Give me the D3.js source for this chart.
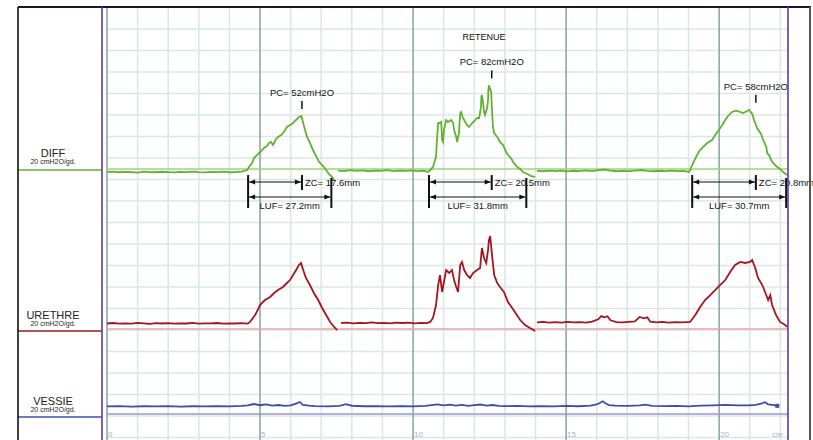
<!DOCTYPE html>
<html>
<head>
<meta charset="utf-8">
<script src="https://cdn.jsdelivr.net/npm/d3@7"></script>
<style>
  html, body { margin: 0; padding: 0; background: #fff; }
  svg { display: block; font-family: "Liberation Sans", Arial, Helvetica, sans-serif; }
</style>
</head>
<body>
<svg id="chart" width="813" height="440"></svg>
<script>
// Position along the paper, in mm; pressures in cmH2O.
// Each trace is a list of [mm, cmH2O] samples; null marks a break in the recording.

const diffTrace = [
  [0,-3],[2,-2.5],[4,-3.2],[6,-2.8],[8,-3],[10,-3.5],[12,-2.6],[14,-3],[16,-3.2],[18,-2.7],
  [20,-3],[22,-3.4],[24,-2.8],[26,-3],[28,-2.5],[30,-3.1],[32,-3.3],[34,-2.9],[36,-3],[38,-2.6],
  [40,-3.2],[42,-3],[44,-2.5],[45.8,-1],
  [46.4,2],[47.4,5.9],[48,10.8],[49,13.7],[49.7,15.7],[50.7,18.6],[51.3,20.6],[52.3,22.5],[52.9,25.5],
  [53.6,26.5],[54.2,23.5],[54.6,25.5],[55.2,29.4],[55.9,31.4],[56.9,33.3],[57.5,35.3],[58.2,38.2],
  [58.8,41.2],[59.8,43.1],[60.8,45.1],[61.4,47.1],[62.1,49],[62.7,51],[63.5,52],[64.1,45.1],
  [64.7,38.2],[65.4,31.4],[66.3,25.5],[67.3,18.6],[68.3,12.7],[69.3,6.9],[70.6,2.9],[71.6,-1],
  [72.5,-4.9],[73.5,-7.8],[74.2,-10.8],
  null,
  [75.5,-1.5],[77.5,-2],[79.5,-1.2],[81.5,-1.8],[83.5,-1.4],[85.5,-2.2],[87.5,-1.5],[89.5,-1.8],
  [91.5,-1.2],[93.5,-2],[95.5,-1.6],[97.5,-1.9],[99.5,-1.3],[101.5,-2.1],[103.5,-1.7],[104.9,-2.9],
  [105.6,-1],[106.5,2],[107.5,11.8],[107.8,28.4],[108.2,45.1],[108.8,45.1],[109.2,46.1],[109.5,28.4],
  [109.8,26.5],[110.1,38.2],[110.8,48],[111.4,46.1],[112.4,48],[113.1,45.1],[113.4,38.2],[114.1,31.4],
  [114.4,26.5],[115,35.3],[115.4,54.9],[115.7,55.9],[116.3,50],[116.7,48],[117.6,43.1],[118.3,41.2],
  [119.3,45.1],[120.3,48],[120.9,50],[121.6,50],[122.2,60.8],[122.3,70.6],[122.5,72.5],[122.9,64.7],
  [123.2,55.9],[123.5,52.9],[124.2,59.8],[124.5,67.6],[124.6,77.5],[124.8,82],[125.5,75.5],
  [125.6,69.6],[125.8,57.8],[126.1,41.2],[126.5,35.3],[127.5,31.4],[128.4,26.5],[129.4,23.5],
  [130.4,16.7],[131,13.7],[132,10.8],[132.7,6.9],[134,2],[135,0],[135.9,-2.9],[137.3,-4.9],
  [138.6,-6.9],[139.9,-7.8],
  null,
  [140.5,-1.8],[142.5,-2.2],[144.5,-1.5],[146.5,-2],[148.5,-1.6],[150.5,-2.3],[152.5,-1.7],
  [154.5,-2],[156.5,-1.4],[158.5,-2.1],[160.5,-1],[162.5,-0.5],[164.5,-1.6],[166.5,-2.2],
  [168.5,-1.8],[170.5,-2],[172.5,-1.5],[174.5,-1],[176.5,-1.9],[178.5,-2.2],[180.5,-1.7],
  [182.5,-2],[184.5,-1.6],[186.5,-2.1],[188.5,-1.8],[190.2,-2.9],
  [190.5,-1],[191.5,5.9],[192.5,11.8],[193.5,17.6],[194.8,21.6],[196.1,25.5],[197.7,28.4],
  [198.7,33.3],[199.7,37.3],[201,43.1],[202,48],[202.9,52],[204.2,55.9],[205.2,56.9],[205.9,57],
  [206.9,55.9],[207.8,54.9],[209.2,56.9],[209.8,58],[210.8,53.9],[211.4,48],[212.4,40.2],
  [213.7,34.3],[214.4,28.4],[215.4,21.6],[215.7,15.7],[216.3,13.7],[217,8.8],[217.6,5.9],
  [219,2],[219.9,0],[220.9,-2.9],[222.2,-5.9]
];

const urethreTrace = [
  [0,5.4],[2,5.9],[4,5.2],[6,5.6],[8,5.3],[10,6],[12,5.5],[14,5.1],[16,5.7],[18,5.4],
  [20,5.8],[22,5.2],[24,5.6],[26,5.4],[28,6],[30,5.3],[32,5.6],[34,5.5],[36,5.9],[38,5.2],
  [40,5.6],[42,5.4],[44,5.8],[46,5.3],
  [46.7,6.9],[48.4,13.7],[50,23.5],[51.6,28.4],[53.3,31.4],[54.6,35.3],[55.9,38.2],[57.5,41.2],
  [58.8,45.1],[59.8,48],[60.8,52.9],[61.8,57.8],[62.7,62.7],[63.4,64.7],[64.1,57.8],[65,50],
  [66.3,43.1],[67.6,35.3],[69,28.4],[70.3,20.6],[71.6,13.7],[72.9,6.9],[74.2,2],[75.2,-1],
  null,
  [76.5,5.9],[78.5,6.3],[80.5,5.6],[82.5,6.1],[84.5,5.8],[86.5,6.4],[88.5,5.7],[90.5,6],
  [92.5,5.5],[94.5,6.2],[96.5,5.9],[98.5,6.3],[100.5,5.6],[102.5,6],[104.5,5.8],
  [105.6,6.9],[106.5,10.8],[107.5,23.5],[108.2,43.1],[108.8,52.9],[109.5,36.3],[110.1,46.1],
  [110.8,57.8],[111.8,54.9],[112.7,57.8],[113.4,48],[114.1,41.2],[114.7,36.3],[115.4,62.7],
  [116,65.7],[116.7,57.8],[117.6,52.9],[118.6,50],[119.6,54.9],[120.9,57.8],[121.9,59.8],
  [122.5,79.4],[123.2,69.6],[123.9,64.7],[124.5,77.5],[124.8,87.3],[125.2,91.2],[125.8,72.5],
  [126.5,52.9],[127.5,45.1],[128.4,41.2],[129.7,36.3],[131,26.5],[132.4,20.6],[133.7,14.7],
  [135,8.8],[136.6,3.9],[138.2,1],[139.9,-2],
  null,
  [140.5,6.4],[142.5,6.9],[144.5,6.2],[146.5,6.7],[148.5,6.3],[150.5,7],[152.5,6.5],[154.5,6.8],
  [156.5,6.3],[158.5,7.2],[160.5,9.5],[161.5,12.7],[162.5,11.5],[163.5,12.5],[164.5,8.5],
  [166.5,6.8],[168.5,6.4],[170.5,6.9],[172.5,7.5],[174,11.8],[175.5,10.5],[176.5,11.5],
  [177.5,7.2],[179.5,6.5],[181.5,6.9],[183.5,6.3],[185.5,6.8],[187.5,6.4],[189.5,6.7],
  [190.5,6.9],[192.2,13.7],[193.8,21.6],[195.4,28.4],[197.1,33.3],[198.7,38.2],[200.3,43.1],
  [202,48],[203.6,55.9],[205.2,62.7],[206.9,65.7],[208.5,64.7],[210.1,65.7],[210.8,67.6],
  [211.8,59.8],[212.7,50],[214.1,43.1],[215,36.3],[216,28.4],[216.7,33.3],[217.3,23.5],
  [218.6,13.7],[219.9,6.9],[221.6,3.9],[222.2,2]
];

const vessieTrace = [
  [0,7.5],[4,7.8],[8,7.2],[12,7.6],[16,7.4],[20,7.8],[24,7.3],[28,7.6],[32,7.5],[36,7.7],
  [40,7.4],[44,8],[46,8.5],[48,9.8],[50,8.6],[52,9.5],[54,8.2],[56,8.8],[58,7.9],[60,8.4],
  [62,10.5],[63,11.8],[64,9],[66,8.2],[68,7.8],[72,7.5],[76,8],[78,9.6],[80,8.1],[84,7.6],
  [88,7.8],[92,7.4],[96,7.7],[100,7.5],[104,7.9],[106,8.6],[108,9.4],[110,8.5],[112,9.2],
  [114,8.3],[116,8.9],[118,8],[120,8.6],[122,9.3],[124,8.2],[126,8.8],[128,8],[130,7.7],
  [134,7.9],[138,7.5],[142,7.8],[146,7.4],[150,8],[154,7.6],[158,8.2],[160,9.5],[161,10.8],
  [162,12.5],[163,10.2],[164,8.8],[166,8.3],[170,7.9],[174,8.5],[176,9.2],[178,8],[182,7.7],
  [186,7.9],[190,7.5],[194,8.2],[198,8.5],[202,8.9],[206,8.4],[210,8.6],[212,9],[214,10.5],
  [215,11.5],[216,9.5],[218,8.6],[219,8]
];

// Voiding events on the DIFF channel
const eventStart = [46.1, 105.2, 191.2];   // mm
const zcValues   = [17.6, 20.5, 20.8];     // mm
const lufValues  = [27.2, 31.8, 30.7];     // mm
const pcValues   = [52, 82, 58];           // cmH2O

const channelNames = ["DIFF", "URETHRE", "VESSIE"];
const channelUnits = ["20 cmH2O/gd.", "20 cmH2O/gd.", "20 cmH2O/gd."];
const axisTicks = [0, 50, 100, 150, 200];        // mm
const axisTickLabels = ["0", "5", "10", "15", "20"];

// ---------- layout ----------
const svg = d3.select("#chart");
const W = 813, H = 440;
const paneLeft = 18, paneRight = 102;
const plotLeft = 107, plotRight = 788;
const topY = 7;

const x = d3.scaleLinear().domain([0, 222.5]).range([plotLeft, plotRight]);
const gdPx = 21.5;                       // height of one grid division
const pxPerUnit = 20.4 / 20;             // px per cmH2O
function channelScale(base) {
  return d3.scaleLinear().domain([0, 100]).range([base, base - 100 * pxPerUnit]);
}
const yDiff = channelScale(169);
const yUre = channelScale(329);
const yVes = channelScale(414);

const colors = {
  diff: "#62b132", diffRef: "#9dd47c",
  ure: "#a3161f", ureRef: "#e3a9ac",
  ves: "#3d4fa5", vesRef: "#9c96d4",
  frame: "#5a3ba6", gridMinor: "#dde6e6", gridMajor: "#7c9c9c"
};

svg.append("rect").attr("width", W).attr("height", H).attr("fill", "#fff");

// ---------- grid ----------
const grid = svg.append("g");
const hLines = d3.range(0, 20).map(k => 29 + k * gdPx);
grid.selectAll("line.h").data(hLines).join("line")
  .attr("x1", plotLeft).attr("x2", plotRight)
  .attr("y1", d => d).attr("y2", d => d)
  .attr("stroke", colors.gridMinor).attr("stroke-width", 1.6);

const minorTicks = d3.range(0, 230, 10).filter(d => d % 50 !== 0);
grid.selectAll("line.vmin").data(minorTicks).join("line")
  .attr("x1", d => x(d)).attr("x2", d => x(d))
  .attr("y1", topY).attr("y2", H)
  .attr("stroke", colors.gridMinor).attr("stroke-width", 1.6);
grid.selectAll("line.vmaj").data(axisTicks).join("line")
  .attr("x1", d => x(d)).attr("x2", d => x(d))
  .attr("y1", topY).attr("y2", H)
  .attr("stroke", colors.gridMajor).attr("stroke-width", 1.4);

// axis labels along the bottom
svg.append("g").selectAll("text").data(axisTicks).join("text")
  .attr("x", d => x(d) + 1).attr("y", 437)
  .attr("font-size", 8).attr("fill", "#a9b3ba")
  .text((d, i) => axisTickLabels[i]);
svg.append("text").attr("x", x(217.3)).attr("y", 437)
  .attr("font-size", 8).attr("fill", "#a9b3ba").text("cm");

// ---------- reference (zero) lines ----------
const refs = [
  { y: yDiff(0), c: colors.diffRef, pane: 170, pc: colors.diff },
  { y: yUre(0), c: colors.ureRef, pane: 331, pc: colors.ure },
  { y: yVes(0), c: colors.vesRef, pane: 417, pc: colors.ves }
];
refs.forEach(r => {
  svg.append("line").attr("x1", plotLeft).attr("x2", plotRight)
    .attr("y1", r.y).attr("y2", r.y).attr("stroke", r.c).attr("stroke-width", 1.5);
  svg.append("line").attr("x1", paneLeft).attr("x2", paneRight)
    .attr("y1", r.pane).attr("y2", r.pane).attr("stroke", r.pc).attr("stroke-width", 1.5);
});

// ---------- traces ----------
function drawTrace(data, yScale, color) {
  const line = d3.line()
    .defined(d => d !== null)
    .x(d => x(d[0])).y(d => yScale(d[1]));
  svg.append("path").datum(data)
    .attr("d", line).attr("fill", "none")
    .attr("stroke", color).attr("stroke-width", 1.8)
    .attr("stroke-linejoin", "miter");
}
drawTrace(vessieTrace, yVes, colors.ves);
drawTrace(urethreTrace, yUre, colors.ure);
drawTrace(diffTrace, yDiff, colors.diff);

// end marker of the bladder trace
const lastVes = vessieTrace[vessieTrace.length - 1];
svg.append("rect").attr("x", x(lastVes[0]) - 2).attr("y", yVes(lastVes[1]) - 2)
  .attr("width", 4).attr("height", 4).attr("fill", colors.ves);

// ---------- annotations ----------
const defs = svg.append("defs");
["end", "start"].forEach(k => {
  defs.append("marker").attr("id", "arr-" + k)
    .attr("viewBox", "0 0 10 10").attr("refX", 10).attr("refY", 5)
    .attr("markerWidth", 7).attr("markerHeight", 6)
    .attr("orient", k === "end" ? "auto" : "auto-start-reverse")
    .append("path").attr("d", "M0,1 L10,5 L0,9 Z").attr("fill", "#111");
});

const ann = svg.append("g").attr("font-size", 9.5).attr("fill", "#111");
eventStart.forEach((s, i) => {
  const x0 = x(s), xz = x(s + zcValues[i]), xl = x(s + lufValues[i]);
  const zcY = 182, lufY = 197;
  // start bar
  ann.append("line").attr("x1", x0).attr("x2", x0).attr("y1", 175).attr("y2", 208)
    .attr("stroke", "#111").attr("stroke-width", 2);
  // ZC
  ann.append("line").attr("x1", x0 + 1).attr("x2", xz - 1).attr("y1", zcY).attr("y2", zcY)
    .attr("stroke", "#111").attr("stroke-width", 1)
    .attr("marker-start", "url(#arr-start)").attr("marker-end", "url(#arr-end)");
  ann.append("line").attr("x1", xz).attr("x2", xz).attr("y1", 175).attr("y2", 190)
    .attr("stroke", "#111").attr("stroke-width", 2);
  ann.append("text").attr("x", xz + 3).attr("y", 186).text(`ZC= ${zcValues[i]}mm`);
  // LUF
  ann.append("line").attr("x1", x0 + 1).attr("x2", xl - 1).attr("y1", lufY).attr("y2", lufY)
    .attr("stroke", "#111").attr("stroke-width", 1)
    .attr("marker-start", "url(#arr-start)").attr("marker-end", "url(#arr-end)");
  ann.append("line").attr("x1", xl).attr("x2", xl).attr("y1", 178).attr("y2", 208)
    .attr("stroke", "#111").attr("stroke-width", 2);
  ann.append("text").attr("x", (x0 + xl) / 2).attr("y", 208.5).attr("text-anchor", "middle")
    .text(`LUF= ${lufValues[i]}mm`);
  // PC
  const yp = yDiff(pcValues[i]);
  ann.append("line").attr("x1", xz).attr("x2", xz).attr("y1", yp - 15).attr("y2", yp - 7)
    .attr("stroke", "#111").attr("stroke-width", 1.5);
  ann.append("text").attr("x", xz).attr("y", yp - 20).attr("text-anchor", "middle")
    .text(`PC= ${pcValues[i]}cmH2O`);
});
ann.append("text").attr("x", x(123.2)).attr("y", 39.5).attr("text-anchor", "middle")
  .attr("font-size", 9).text("RETENUE");

// ---------- channel labels ----------
const labelBase = [157, 319, 405];
channelNames.forEach((n, i) => {
  svg.append("text").attr("x", 53).attr("y", labelBase[i]).attr("text-anchor", "middle")
    .attr("font-size", 11).attr("fill", "#222").text(n);
  svg.append("text").attr("x", 53).attr("y", labelBase[i] + 6.5).attr("text-anchor", "middle")
    .attr("font-size", 7).attr("fill", "#222").text(channelUnits[i]);
});

// ---------- frame ----------
svg.append("line").attr("x1", paneLeft).attr("x2", 811).attr("y1", topY).attr("y2", topY)
  .attr("stroke", "#1d1530").attr("stroke-width", 2);
svg.append("line").attr("x1", paneLeft).attr("x2", paneLeft).attr("y1", topY).attr("y2", H)
  .attr("stroke", "#111").attr("stroke-width", 1.6);
svg.append("line").attr("x1", paneRight).attr("x2", paneRight).attr("y1", topY).attr("y2", H)
  .attr("stroke", colors.frame).attr("stroke-width", 1.6);
svg.append("line").attr("x1", plotRight).attr("x2", plotRight).attr("y1", topY).attr("y2", H)
  .attr("stroke", colors.frame).attr("stroke-width", 1.6);
svg.append("line").attr("x1", 810).attr("x2", 810).attr("y1", topY).attr("y2", H)
  .attr("stroke", "#555").attr("stroke-width", 2);
</script>
</body>
</html>
